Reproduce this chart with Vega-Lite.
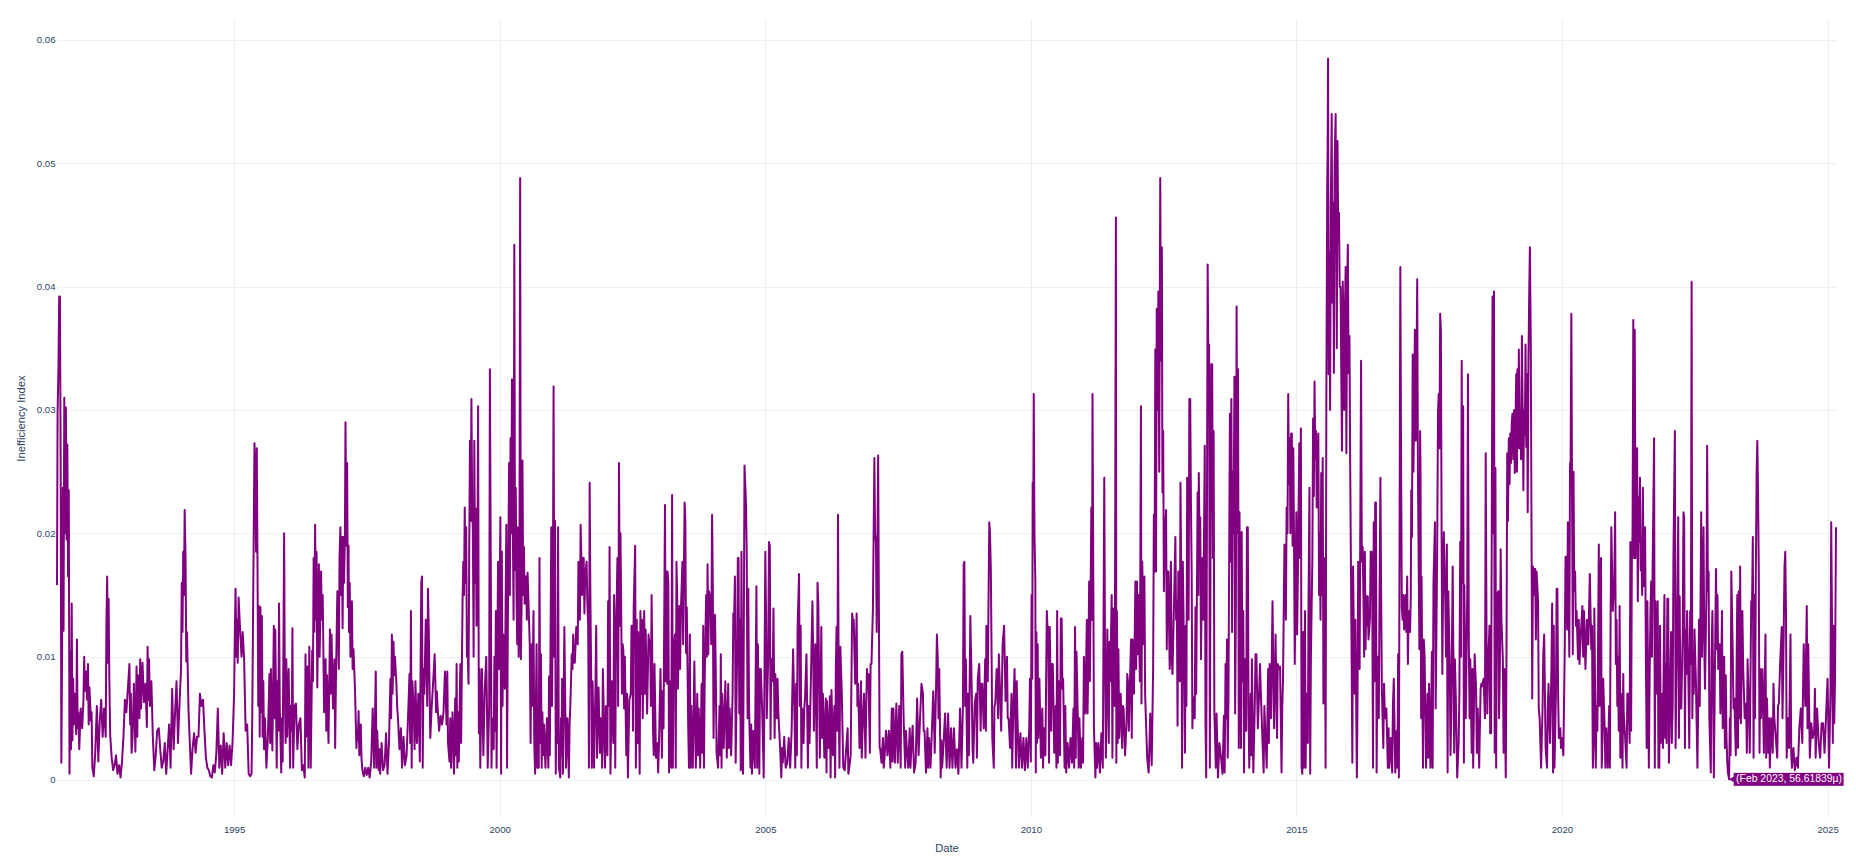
{
"$schema": "https://vega.github.io/schema/vega-lite/v6.json",
"width": 1779, "height": 798,
"autosize": {"type": "none"},
"padding": {"left": 57, "top": 19, "right": 27, "bottom": 45},
"background": "white",
"config": {"view": {"stroke": null}, "font": "Liberation Sans"},
"datasets": {
"hover": [{"d":"2023-02-24","v":0.0000566,"label":"(Feb 2023, 56.61839µ)"}],
"series": [
{"d":"1991-09-01","v":0.0158},{"d":"1991-09-05","v":0.0297},{"d":"1991-09-11","v":0.0335},{"d":"1991-09-16","v":0.0392},{"d":"1991-09-21","v":0.0392},{"d":"1991-09-26","v":0.0265},
{"d":"1991-10-01","v":0.0014},{"d":"1991-10-06","v":0.0105},{"d":"1991-10-11","v":0.0237},{"d":"1991-10-16","v":0.0121},{"d":"1991-10-21","v":0.031},{"d":"1991-10-26","v":0.02},
{"d":"1991-11-01","v":0.0302},{"d":"1991-11-06","v":0.0195},{"d":"1991-11-11","v":0.0272},{"d":"1991-11-16","v":0.0165},{"d":"1991-11-21","v":0.0235},{"d":"1991-11-26","v":0.0005},
{"d":"1991-12-01","v":0.0104},{"d":"1991-12-06","v":0.0025},{"d":"1991-12-11","v":0.0143},{"d":"1991-12-16","v":0.0032},{"d":"1991-12-21","v":0.0082},{"d":"1991-12-26","v":0.0045},
{"d":"1992-01-01","v":0.007},{"d":"1992-01-11","v":0.0037},{"d":"1992-01-16","v":0.0114},{"d":"1992-01-21","v":0.0042},{"d":"1992-01-26","v":0.0055},
{"d":"1992-02-01","v":0.0025},{"d":"1992-02-11","v":0.0058},{"d":"1992-02-21","v":0.0042},
{"d":"1992-03-01","v":0.0065},{"d":"1992-03-06","v":0.01},{"d":"1992-03-11","v":0.0072},{"d":"1992-03-21","v":0.0088},{"d":"1992-03-26","v":0.0065},
{"d":"1992-04-01","v":0.0094},{"d":"1992-04-06","v":0.0045},{"d":"1992-04-11","v":0.0075},{"d":"1992-04-21","v":0.0048},{"d":"1992-04-26","v":0.0055},
{"d":"1992-05-01","v":0.001},{"d":"1992-05-11","v":0.0003},{"d":"1992-05-21","v":0.0022},
{"d":"1992-06-01","v":0.006},{"d":"1992-06-11","v":0.0015},{"d":"1992-06-21","v":0.0048},
{"d":"1992-07-01","v":0.0065},{"d":"1992-07-11","v":0.0035},{"d":"1992-07-21","v":0.0058},
{"d":"1992-08-01","v":0.0035},{"d":"1992-08-06","v":0.0128},{"d":"1992-08-11","v":0.0165},{"d":"1992-08-16","v":0.0095},{"d":"1992-08-21","v":0.0147},{"d":"1992-08-26","v":0.008},
{"d":"1992-09-01","v":0.0036},{"d":"1992-09-11","v":0.0018},{"d":"1992-09-21","v":0.0008},
{"d":"1992-10-01","v":0.0012},{"d":"1992-10-11","v":0.002},{"d":"1992-10-21","v":0.0005},
{"d":"1992-11-01","v":0.0012},{"d":"1992-11-11","v":0.0002},{"d":"1992-11-21","v":0.0015},
{"d":"1992-12-01","v":0.0035},{"d":"1992-12-11","v":0.0065},{"d":"1992-12-21","v":0.0055},
{"d":"1993-01-01","v":0.0075},{"d":"1993-01-11","v":0.0094},{"d":"1993-01-16","v":0.0045},{"d":"1993-01-21","v":0.007},{"d":"1993-01-26","v":0.0022},
{"d":"1993-02-01","v":0.0033},{"d":"1993-02-11","v":0.0078},{"d":"1993-02-21","v":0.0023},
{"d":"1993-03-01","v":0.0092},{"d":"1993-03-06","v":0.0035},{"d":"1993-03-11","v":0.0085},{"d":"1993-03-21","v":0.005},{"d":"1993-03-26","v":0.0098},
{"d":"1993-04-01","v":0.0058},{"d":"1993-04-11","v":0.0095},{"d":"1993-04-21","v":0.0063},
{"d":"1993-05-01","v":0.0078},{"d":"1993-05-11","v":0.0043},{"d":"1993-05-16","v":0.0108},{"d":"1993-05-21","v":0.0065},{"d":"1993-05-26","v":0.0098},
{"d":"1993-06-01","v":0.006},{"d":"1993-06-11","v":0.008},{"d":"1993-06-21","v":0.0035},
{"d":"1993-07-01","v":0.0008},{"d":"1993-07-11","v":0.002},{"d":"1993-07-21","v":0.004},
{"d":"1993-08-01","v":0.0042},{"d":"1993-08-11","v":0.0025},{"d":"1993-08-21","v":0.001},
{"d":"1993-09-01","v":0.0015},{"d":"1993-09-11","v":0.003},{"d":"1993-09-21","v":0.0005},
{"d":"1993-10-01","v":0.0025},{"d":"1993-10-11","v":0.0045},{"d":"1993-10-21","v":0.001},
{"d":"1993-11-01","v":0.0074},{"d":"1993-11-11","v":0.0025},{"d":"1993-11-21","v":0.0055},
{"d":"1993-12-01","v":0.008},{"d":"1993-12-11","v":0.003},{"d":"1993-12-21","v":0.006},
{"d":"1994-01-01","v":0.009},{"d":"1994-01-06","v":0.016},{"d":"1994-01-11","v":0.012},{"d":"1994-01-16","v":0.0185},{"d":"1994-01-21","v":0.015},{"d":"1994-01-26","v":0.0219},
{"d":"1994-02-01","v":0.018},{"d":"1994-02-06","v":0.0096},{"d":"1994-02-11","v":0.012},{"d":"1994-02-21","v":0.0058},
{"d":"1994-03-01","v":0.0034},{"d":"1994-03-11","v":0.0005},{"d":"1994-03-21","v":0.0025},
{"d":"1994-04-01","v":0.0038},{"d":"1994-04-11","v":0.0022},{"d":"1994-04-21","v":0.0035},
{"d":"1994-05-01","v":0.0035},{"d":"1994-05-11","v":0.007},{"d":"1994-05-21","v":0.006},
{"d":"1994-06-01","v":0.0065},{"d":"1994-06-11","v":0.004},{"d":"1994-06-21","v":0.0018},
{"d":"1994-07-01","v":0.001},{"d":"1994-07-11","v":0.0008},{"d":"1994-07-21","v":0.0003},
{"d":"1994-08-01","v":0.0002},{"d":"1994-08-11","v":0.0012},{"d":"1994-08-21","v":0.0006},
{"d":"1994-09-01","v":0.0022},{"d":"1994-09-11","v":0.0058},{"d":"1994-09-21","v":0.001},
{"d":"1994-10-01","v":0.0028},{"d":"1994-10-11","v":0.0005},{"d":"1994-10-21","v":0.0038},
{"d":"1994-11-01","v":0.001},{"d":"1994-11-11","v":0.003},{"d":"1994-11-21","v":0.0012},
{"d":"1994-12-01","v":0.0028},{"d":"1994-12-11","v":0.0012},{"d":"1994-12-21","v":0.003},
{"d":"1995-01-01","v":0.007},{"d":"1995-01-06","v":0.012},{"d":"1995-01-11","v":0.0155},{"d":"1995-01-16","v":0.01},{"d":"1995-01-21","v":0.013},{"d":"1995-01-26","v":0.0095},
{"d":"1995-02-01","v":0.0148},{"d":"1995-02-11","v":0.0122},{"d":"1995-02-21","v":0.01},
{"d":"1995-03-01","v":0.012},{"d":"1995-03-11","v":0.0098},{"d":"1995-03-21","v":0.004},
{"d":"1995-04-01","v":0.0045},{"d":"1995-04-11","v":0.0005},{"d":"1995-04-21","v":0.0003},
{"d":"1995-05-01","v":0.0005},{"d":"1995-05-06","v":0.0054},{"d":"1995-05-11","v":0.013},{"d":"1995-05-16","v":0.02},{"d":"1995-05-21","v":0.0273},{"d":"1995-05-26","v":0.025},
{"d":"1995-06-01","v":0.0185},{"d":"1995-06-06","v":0.0269},{"d":"1995-06-11","v":0.0171},{"d":"1995-06-16","v":0.006},{"d":"1995-06-21","v":0.0141},{"d":"1995-06-26","v":0.0035},
{"d":"1995-07-01","v":0.014},{"d":"1995-07-06","v":0.0055},{"d":"1995-07-11","v":0.0133},{"d":"1995-07-16","v":0.0035},{"d":"1995-07-21","v":0.008},{"d":"1995-07-26","v":0.0025},
{"d":"1995-08-01","v":0.005},{"d":"1995-08-11","v":0.001},{"d":"1995-08-21","v":0.0035},
{"d":"1995-09-01","v":0.0086},{"d":"1995-09-06","v":0.003},{"d":"1995-09-11","v":0.009},{"d":"1995-09-21","v":0.0024},{"d":"1995-09-26","v":0.007},
{"d":"1995-10-01","v":0.0125},{"d":"1995-10-06","v":0.005},{"d":"1995-10-11","v":0.0122},{"d":"1995-10-21","v":0.001},{"d":"1995-10-26","v":0.008},
{"d":"1995-11-01","v":0.004},{"d":"1995-11-06","v":0.0143},{"d":"1995-11-11","v":0.006},{"d":"1995-11-21","v":0.0006},{"d":"1995-11-26","v":0.005},
{"d":"1995-12-01","v":0.0015},{"d":"1995-12-11","v":0.02},{"d":"1995-12-16","v":0.007},{"d":"1995-12-21","v":0.003},{"d":"1995-12-26","v":0.0098},
{"d":"1996-01-01","v":0.0035},{"d":"1996-01-11","v":0.009},{"d":"1996-01-21","v":0.001},{"d":"1996-01-26","v":0.006},
{"d":"1996-02-01","v":0.004},{"d":"1996-02-06","v":0.0123},{"d":"1996-02-11","v":0.001},{"d":"1996-02-21","v":0.006},
{"d":"1996-03-01","v":0.0062},{"d":"1996-03-11","v":0.0025},{"d":"1996-03-21","v":0.0045},
{"d":"1996-04-01","v":0.005},{"d":"1996-04-11","v":0.0008},{"d":"1996-04-21","v":0.0012},
{"d":"1996-05-01","v":0.0002},{"d":"1996-05-06","v":0.0102},{"d":"1996-05-11","v":0.0035},{"d":"1996-05-21","v":0.0092},{"d":"1996-05-26","v":0.001},
{"d":"1996-06-01","v":0.0108},{"d":"1996-06-11","v":0.001},{"d":"1996-06-21","v":0.0105},{"d":"1996-06-26","v":0.008},
{"d":"1996-07-01","v":0.018},{"d":"1996-07-06","v":0.012},{"d":"1996-07-11","v":0.0207},{"d":"1996-07-16","v":0.013},{"d":"1996-07-21","v":0.0185},{"d":"1996-07-26","v":0.0075},
{"d":"1996-08-01","v":0.0135},{"d":"1996-08-06","v":0.0175},{"d":"1996-08-11","v":0.01},{"d":"1996-08-21","v":0.0169},{"d":"1996-08-26","v":0.013},
{"d":"1996-09-01","v":0.015},{"d":"1996-09-11","v":0.0055},{"d":"1996-09-21","v":0.0098},{"d":"1996-09-26","v":0.004},
{"d":"1996-10-01","v":0.0085},{"d":"1996-10-11","v":0.003},{"d":"1996-10-21","v":0.0122},{"d":"1996-10-26","v":0.007},
{"d":"1996-11-01","v":0.0118},{"d":"1996-11-11","v":0.0058},{"d":"1996-11-21","v":0.0098},{"d":"1996-11-26","v":0.0026},
{"d":"1996-12-01","v":0.008},{"d":"1996-12-11","v":0.0153},{"d":"1996-12-21","v":0.009},{"d":"1996-12-26","v":0.018},
{"d":"1997-01-01","v":0.0205},{"d":"1997-01-06","v":0.015},{"d":"1997-01-11","v":0.0197},{"d":"1997-01-16","v":0.0123},{"d":"1997-01-21","v":0.0197},{"d":"1997-01-26","v":0.016},
{"d":"1997-02-01","v":0.02},{"d":"1997-02-05","v":0.029},{"d":"1997-02-11","v":0.019},{"d":"1997-02-16","v":0.0257},{"d":"1997-02-21","v":0.014},{"d":"1997-02-26","v":0.019},
{"d":"1997-03-01","v":0.012},{"d":"1997-03-06","v":0.016},{"d":"1997-03-11","v":0.01},{"d":"1997-03-21","v":0.0145},{"d":"1997-03-26","v":0.009},
{"d":"1997-04-01","v":0.0106},{"d":"1997-04-11","v":0.0075},{"d":"1997-04-21","v":0.0026},{"d":"1997-04-26","v":0.004},
{"d":"1997-05-01","v":0.0032},{"d":"1997-05-06","v":0.0056},{"d":"1997-05-11","v":0.002},{"d":"1997-05-21","v":0.0045},{"d":"1997-05-26","v":0.0018},
{"d":"1997-06-01","v":0.0008},{"d":"1997-06-11","v":0.0003},{"d":"1997-06-21","v":0.001},
{"d":"1997-07-01","v":0.0004},{"d":"1997-07-11","v":0.001},{"d":"1997-07-21","v":0.0002},
{"d":"1997-08-01","v":0.0015},{"d":"1997-08-11","v":0.0058},{"d":"1997-08-21","v":0.001},
{"d":"1997-09-01","v":0.0088},{"d":"1997-09-06","v":0.001},{"d":"1997-09-11","v":0.004},{"d":"1997-09-21","v":0.0008},{"d":"1997-09-26","v":0.0025},
{"d":"1997-10-01","v":0.0005},{"d":"1997-10-11","v":0.003},{"d":"1997-10-21","v":0.0008},
{"d":"1997-11-01","v":0.0012},{"d":"1997-11-11","v":0.0038},{"d":"1997-11-21","v":0.0005},
{"d":"1997-12-01","v":0.003},{"d":"1997-12-11","v":0.0082},{"d":"1997-12-16","v":0.005},{"d":"1997-12-21","v":0.0118},{"d":"1997-12-26","v":0.007},
{"d":"1998-01-01","v":0.0112},{"d":"1998-01-06","v":0.0085},{"d":"1998-01-11","v":0.01},{"d":"1998-01-21","v":0.0078},{"d":"1998-01-26","v":0.006},
{"d":"1998-02-01","v":0.005},{"d":"1998-02-11","v":0.0025},{"d":"1998-02-21","v":0.0042},
{"d":"1998-03-01","v":0.001},{"d":"1998-03-11","v":0.0035},{"d":"1998-03-21","v":0.0012},
{"d":"1998-04-01","v":0.002},{"d":"1998-04-11","v":0.005},{"d":"1998-04-21","v":0.0086},{"d":"1998-04-26","v":0.003},
{"d":"1998-05-01","v":0.0137},{"d":"1998-05-06","v":0.001},{"d":"1998-05-11","v":0.008},{"d":"1998-05-21","v":0.0055},{"d":"1998-05-26","v":0.0025},
{"d":"1998-06-01","v":0.008},{"d":"1998-06-11","v":0.003},{"d":"1998-06-21","v":0.007},
{"d":"1998-07-01","v":0.0015},{"d":"1998-07-11","v":0.016},{"d":"1998-07-16","v":0.0165},{"d":"1998-07-21","v":0.001},{"d":"1998-07-26","v":0.009},
{"d":"1998-08-01","v":0.007},{"d":"1998-08-11","v":0.013},{"d":"1998-08-21","v":0.006},{"d":"1998-08-26","v":0.0155},
{"d":"1998-09-01","v":0.012},{"d":"1998-09-06","v":0.0075},{"d":"1998-09-11","v":0.0034},{"d":"1998-09-21","v":0.006},
{"d":"1998-10-01","v":0.008},{"d":"1998-10-11","v":0.0102},{"d":"1998-10-21","v":0.0055},{"d":"1998-10-26","v":0.0072},
{"d":"1998-11-01","v":0.0058},{"d":"1998-11-11","v":0.004},{"d":"1998-11-21","v":0.0052},
{"d":"1998-12-01","v":0.0045},{"d":"1998-12-11","v":0.0055},{"d":"1998-12-21","v":0.0088},
{"d":"1999-01-01","v":0.0045},{"d":"1999-01-06","v":0.0088},{"d":"1999-01-11","v":0.003},{"d":"1999-01-21","v":0.0015},{"d":"1999-01-26","v":0.005},
{"d":"1999-02-01","v":0.001},{"d":"1999-02-11","v":0.0055},{"d":"1999-02-21","v":0.0005},{"d":"1999-02-26","v":0.004},
{"d":"1999-03-01","v":0.0066},{"d":"1999-03-06","v":0.002},{"d":"1999-03-11","v":0.0094},{"d":"1999-03-16","v":0.001},{"d":"1999-03-21","v":0.0055},{"d":"1999-03-26","v":0.0015},
{"d":"1999-04-01","v":0.006},{"d":"1999-04-06","v":0.0094},{"d":"1999-04-11","v":0.003},{"d":"1999-04-21","v":0.0145},{"d":"1999-04-26","v":0.0177},
{"d":"1999-05-01","v":0.015},{"d":"1999-05-06","v":0.0221},{"d":"1999-05-11","v":0.016},{"d":"1999-05-16","v":0.0205},{"d":"1999-05-21","v":0.01},{"d":"1999-05-26","v":0.0106},
{"d":"1999-06-01","v":0.0078},{"d":"1999-06-06","v":0.019},{"d":"1999-06-11","v":0.0275},{"d":"1999-06-16","v":0.021},{"d":"1999-06-21","v":0.0309},{"d":"1999-06-26","v":0.0225},
{"d":"1999-07-01","v":0.02},{"d":"1999-07-06","v":0.01},{"d":"1999-07-11","v":0.0275},{"d":"1999-07-16","v":0.016},{"d":"1999-07-21","v":0.022},{"d":"1999-07-26","v":0.0125},
{"d":"1999-08-01","v":0.018},{"d":"1999-08-06","v":0.0303},{"d":"1999-08-11","v":0.0038},{"d":"1999-08-16","v":0.009},{"d":"1999-08-21","v":0.001},{"d":"1999-08-26","v":0.005},
{"d":"1999-09-01","v":0.009},{"d":"1999-09-11","v":0.002},{"d":"1999-09-21","v":0.0075},
{"d":"1999-10-01","v":0.01},{"d":"1999-10-06","v":0.0058},{"d":"1999-10-11","v":0.001},{"d":"1999-10-21","v":0.006},{"d":"1999-10-26","v":0.0333},
{"d":"1999-11-01","v":0.0177},{"d":"1999-11-06","v":0.001},{"d":"1999-11-11","v":0.005},{"d":"1999-11-21","v":0.0025},{"d":"1999-11-26","v":0.01},
{"d":"1999-12-01","v":0.004},{"d":"1999-12-06","v":0.0137},{"d":"1999-12-11","v":0.001},{"d":"1999-12-21","v":0.0177},{"d":"1999-12-26","v":0.009},
{"d":"2000-01-01","v":0.015},{"d":"2000-01-06","v":0.0213},{"d":"2000-01-11","v":0.0005},{"d":"2000-01-16","v":0.0185},{"d":"2000-01-21","v":0.006},{"d":"2000-01-26","v":0.0118},
{"d":"2000-02-01","v":0.009},{"d":"2000-02-06","v":0.0074},{"d":"2000-02-11","v":0.014},{"d":"2000-02-16","v":0.0207},{"d":"2000-02-21","v":0.001},{"d":"2000-02-26","v":0.012},
{"d":"2000-03-01","v":0.018},{"d":"2000-03-06","v":0.0257},{"d":"2000-03-11","v":0.015},{"d":"2000-03-16","v":0.0277},{"d":"2000-03-21","v":0.02},{"d":"2000-03-26","v":0.0325},
{"d":"2000-04-01","v":0.02},{"d":"2000-04-06","v":0.013},{"d":"2000-04-11","v":0.0434},{"d":"2000-04-16","v":0.017},{"d":"2000-04-21","v":0.0237},{"d":"2000-04-26","v":0.015},
{"d":"2000-05-01","v":0.011},{"d":"2000-05-06","v":0.0205},{"d":"2000-05-11","v":0.01},{"d":"2000-05-16","v":0.015},{"d":"2000-05-21","v":0.0488},{"d":"2000-05-26","v":0.0098},
{"d":"2000-06-01","v":0.015},{"d":"2000-06-06","v":0.0259},{"d":"2000-06-11","v":0.015},{"d":"2000-06-16","v":0.0189},{"d":"2000-06-21","v":0.0143},{"d":"2000-06-26","v":0.0165},
{"d":"2000-07-01","v":0.0165},{"d":"2000-07-06","v":0.013},{"d":"2000-07-11","v":0.0168},{"d":"2000-07-21","v":0.013},{"d":"2000-07-26","v":0.011},
{"d":"2000-08-01","v":0.003},{"d":"2000-08-06","v":0.011},{"d":"2000-08-11","v":0.006},{"d":"2000-08-21","v":0.0137},{"d":"2000-08-26","v":0.003},
{"d":"2000-09-01","v":0.0005},{"d":"2000-09-11","v":0.011},{"d":"2000-09-16","v":0.001},{"d":"2000-09-21","v":0.0058},{"d":"2000-09-26","v":0.001},
{"d":"2000-10-01","v":0.018},{"d":"2000-10-06","v":0.003},{"d":"2000-10-11","v":0.0102},{"d":"2000-10-16","v":0.001},{"d":"2000-10-21","v":0.0055},{"d":"2000-10-26","v":0.002},
{"d":"2000-11-01","v":0.0045},{"d":"2000-11-11","v":0.001},{"d":"2000-11-21","v":0.005},
{"d":"2000-12-01","v":0.001},{"d":"2000-12-06","v":0.0084},{"d":"2000-12-11","v":0.002},{"d":"2000-12-21","v":0.0205},{"d":"2000-12-26","v":0.006},
{"d":"2001-01-01","v":0.015},{"d":"2001-01-06","v":0.0319},{"d":"2001-01-11","v":0.01},{"d":"2001-01-16","v":0.021},{"d":"2001-01-21","v":0.0005},{"d":"2001-01-26","v":0.006},
{"d":"2001-02-01","v":0.003},{"d":"2001-02-06","v":0.0205},{"d":"2001-02-11","v":0.001},{"d":"2001-02-21","v":0.0002},{"d":"2001-02-26","v":0.005},
{"d":"2001-03-01","v":0.002},{"d":"2001-03-06","v":0.0082},{"d":"2001-03-11","v":0.0005},{"d":"2001-03-21","v":0.0124},{"d":"2001-03-26","v":0.0074},
{"d":"2001-04-01","v":0.001},{"d":"2001-04-11","v":0.005},{"d":"2001-04-21","v":0.0002},{"d":"2001-04-26","v":0.0045},
{"d":"2001-05-01","v":0.006},{"d":"2001-05-11","v":0.0102},{"d":"2001-05-16","v":0.009},{"d":"2001-05-21","v":0.0118},{"d":"2001-05-26","v":0.0095},
{"d":"2001-06-01","v":0.0095},{"d":"2001-06-11","v":0.0124},{"d":"2001-06-21","v":0.011},{"d":"2001-06-26","v":0.0177},
{"d":"2001-07-01","v":0.0175},{"d":"2001-07-06","v":0.013},{"d":"2001-07-11","v":0.0207},{"d":"2001-07-21","v":0.015},{"d":"2001-07-26","v":0.018},
{"d":"2001-08-01","v":0.018},{"d":"2001-08-06","v":0.0135},{"d":"2001-08-11","v":0.0165},{"d":"2001-08-21","v":0.0177},{"d":"2001-08-26","v":0.0145},
{"d":"2001-09-01","v":0.0124},{"d":"2001-09-06","v":0.001},{"d":"2001-09-11","v":0.0241},{"d":"2001-09-16","v":0.015},{"d":"2001-09-21","v":0.009},{"d":"2001-09-26","v":0.001},
{"d":"2001-10-01","v":0.008},{"d":"2001-10-11","v":0.001},{"d":"2001-10-21","v":0.0075},{"d":"2001-10-26","v":0.0125},
{"d":"2001-11-01","v":0.0018},{"d":"2001-11-11","v":0.0075},{"d":"2001-11-21","v":0.0022},{"d":"2001-11-26","v":0.005},
{"d":"2001-12-01","v":0.0042},{"d":"2001-12-06","v":0.001},{"d":"2001-12-11","v":0.009},{"d":"2001-12-21","v":0.003},{"d":"2001-12-26","v":0.001},
{"d":"2002-01-01","v":0.006},{"d":"2002-01-11","v":0.002},{"d":"2002-01-16","v":0.0145},{"d":"2002-01-21","v":0.006},{"d":"2002-01-26","v":0.0189},
{"d":"2002-02-01","v":0.0005},{"d":"2002-02-11","v":0.008},{"d":"2002-02-21","v":0.003},{"d":"2002-02-26","v":0.015},
{"d":"2002-03-01","v":0.013},{"d":"2002-03-06","v":0.001},{"d":"2002-03-11","v":0.011},{"d":"2002-03-21","v":0.018},{"d":"2002-03-26","v":0.006},
{"d":"2002-04-01","v":0.0257},{"d":"2002-04-06","v":0.0125},{"d":"2002-04-11","v":0.02},{"d":"2002-04-21","v":0.007},{"d":"2002-04-26","v":0.011},
{"d":"2002-05-01","v":0.0105},{"d":"2002-05-06","v":0.0058},{"d":"2002-05-11","v":0.01},{"d":"2002-05-21","v":0.002},{"d":"2002-05-26","v":0.007},
{"d":"2002-06-01","v":0.0002},{"d":"2002-06-11","v":0.0065},{"d":"2002-06-21","v":0.007},{"d":"2002-06-26","v":0.0125},
{"d":"2002-07-01","v":0.0125},{"d":"2002-07-06","v":0.004},{"d":"2002-07-11","v":0.014},{"d":"2002-07-21","v":0.019},{"d":"2002-07-26","v":0.001},
{"d":"2002-08-01","v":0.013},{"d":"2002-08-06","v":0.003},{"d":"2002-08-11","v":0.012},{"d":"2002-08-21","v":0.0005},{"d":"2002-08-26","v":0.0137},
{"d":"2002-09-01","v":0.007},{"d":"2002-09-06","v":0.013},{"d":"2002-09-11","v":0.005},{"d":"2002-09-21","v":0.0137},{"d":"2002-09-26","v":0.007},
{"d":"2002-10-01","v":0.0122},{"d":"2002-10-11","v":0.0054},{"d":"2002-10-21","v":0.0118},{"d":"2002-10-26","v":0.011},
{"d":"2002-11-01","v":0.0113},{"d":"2002-11-06","v":0.006},{"d":"2002-11-11","v":0.015},{"d":"2002-11-21","v":0.004},{"d":"2002-11-26","v":0.002},
{"d":"2002-12-01","v":0.0094},{"d":"2002-12-11","v":0.0018},{"d":"2002-12-21","v":0.003},{"d":"2002-12-26","v":0.0006},
{"d":"2003-01-01","v":0.003},{"d":"2003-01-11","v":0.009},{"d":"2003-01-21","v":0.0018},{"d":"2003-01-26","v":0.0072},
{"d":"2003-02-01","v":0.0042},{"d":"2003-02-11","v":0.0223},{"d":"2003-02-16","v":0.008},{"d":"2003-02-21","v":0.0169},{"d":"2003-02-26","v":0.0078},
{"d":"2003-03-01","v":0.0169},{"d":"2003-03-06","v":0.016},{"d":"2003-03-11","v":0.0006},{"d":"2003-03-21","v":0.008},{"d":"2003-03-26","v":0.001},
{"d":"2003-04-01","v":0.0231},{"d":"2003-04-06","v":0.001},{"d":"2003-04-11","v":0.0106},{"d":"2003-04-21","v":0.0118},{"d":"2003-04-26","v":0.001},
{"d":"2003-05-01","v":0.0177},{"d":"2003-05-06","v":0.015},{"d":"2003-05-11","v":0.0074},{"d":"2003-05-21","v":0.0141},{"d":"2003-05-26","v":0.009},
{"d":"2003-06-01","v":0.014},{"d":"2003-06-11","v":0.0177},{"d":"2003-06-16","v":0.011},{"d":"2003-06-26","v":0.0225},
{"d":"2003-07-01","v":0.0211},{"d":"2003-07-06","v":0.0103},{"d":"2003-07-11","v":0.014},{"d":"2003-07-21","v":0.0042},{"d":"2003-07-26","v":0.001},
{"d":"2003-08-01","v":0.0118},{"d":"2003-08-06","v":0.001},{"d":"2003-08-11","v":0.006},{"d":"2003-08-21","v":0.001},{"d":"2003-08-26","v":0.0045},
{"d":"2003-09-01","v":0.0096},{"d":"2003-09-11","v":0.001},{"d":"2003-09-21","v":0.007},{"d":"2003-09-26","v":0.002},
{"d":"2003-10-01","v":0.0058},{"d":"2003-10-11","v":0.001},{"d":"2003-10-21","v":0.0078},{"d":"2003-10-26","v":0.0022},
{"d":"2003-11-01","v":0.0125},{"d":"2003-11-06","v":0.001},{"d":"2003-11-11","v":0.008},{"d":"2003-11-21","v":0.015},{"d":"2003-11-26","v":0.01},
{"d":"2003-12-01","v":0.0175},{"d":"2003-12-06","v":0.0102},{"d":"2003-12-11","v":0.0153},{"d":"2003-12-21","v":0.0145},{"d":"2003-12-26","v":0.011},
{"d":"2004-01-01","v":0.0215},{"d":"2004-01-06","v":0.0157},{"d":"2004-01-11","v":0.0034},{"d":"2004-01-21","v":0.0134},{"d":"2004-01-26","v":0.009},
{"d":"2004-02-01","v":0.0022},{"d":"2004-02-11","v":0.001},{"d":"2004-02-21","v":0.006},{"d":"2004-02-26","v":0.002},
{"d":"2004-03-01","v":0.0102},{"d":"2004-03-06","v":0.001},{"d":"2004-03-11","v":0.007},{"d":"2004-03-21","v":0.0026},{"d":"2004-03-26","v":0.005},
{"d":"2004-04-01","v":0.008},{"d":"2004-04-11","v":0.0018},{"d":"2004-04-21","v":0.0078},{"d":"2004-04-26","v":0.0026},
{"d":"2004-05-01","v":0.0058},{"d":"2004-05-11","v":0.002},{"d":"2004-05-21","v":0.007},{"d":"2004-05-26","v":0.0135},
{"d":"2004-06-01","v":0.0135},{"d":"2004-06-06","v":0.0165},{"d":"2004-06-11","v":0.0014},{"d":"2004-06-21","v":0.01},{"d":"2004-06-26","v":0.018},
{"d":"2004-07-01","v":0.018},{"d":"2004-07-06","v":0.0054},{"d":"2004-07-11","v":0.013},{"d":"2004-07-16","v":0.0008},{"d":"2004-07-21","v":0.0185},{"d":"2004-07-26","v":0.002},
{"d":"2004-08-01","v":0.0005},{"d":"2004-08-06","v":0.012},{"d":"2004-08-11","v":0.0255},{"d":"2004-08-21","v":0.0225},{"d":"2004-08-26","v":0.0185},
{"d":"2004-09-01","v":0.005},{"d":"2004-09-06","v":0.0155},{"d":"2004-09-11","v":0.006},{"d":"2004-09-21","v":0.001},{"d":"2004-09-26","v":0.0045},
{"d":"2004-10-01","v":0.0005},{"d":"2004-10-11","v":0.004},{"d":"2004-10-21","v":0.001},
{"d":"2004-11-01","v":0.0157},{"d":"2004-11-06","v":0.001},{"d":"2004-11-11","v":0.011},{"d":"2004-11-21","v":0.0005},{"d":"2004-11-26","v":0.009},
{"d":"2004-12-01","v":0.009},{"d":"2004-12-11","v":0.0054},{"d":"2004-12-21","v":0.0002},{"d":"2004-12-26","v":0.008},
{"d":"2005-01-01","v":0.0185},{"d":"2005-01-06","v":0.0137},{"d":"2005-01-11","v":0.005},{"d":"2005-01-21","v":0.01},{"d":"2005-01-26","v":0.0193},
{"d":"2005-02-01","v":0.019},{"d":"2005-02-06","v":0.0033},{"d":"2005-02-11","v":0.0098},{"d":"2005-02-21","v":0.008},{"d":"2005-02-26","v":0.0139},
{"d":"2005-03-01","v":0.0098},{"d":"2005-03-06","v":0.0034},{"d":"2005-03-11","v":0.0086},{"d":"2005-03-21","v":0.005},{"d":"2005-03-26","v":0.0082},
{"d":"2005-04-01","v":0.0054},{"d":"2005-04-11","v":0.003},{"d":"2005-04-21","v":0.0002},{"d":"2005-04-26","v":0.0026},
{"d":"2005-05-01","v":0.0014},{"d":"2005-05-11","v":0.0035},{"d":"2005-05-21","v":0.001},
{"d":"2005-06-01","v":0.0014},{"d":"2005-06-11","v":0.0034},{"d":"2005-06-21","v":0.001},
{"d":"2005-07-01","v":0.004},{"d":"2005-07-11","v":0.0106},{"d":"2005-07-21","v":0.005},{"d":"2005-07-26","v":0.001},
{"d":"2005-08-01","v":0.0078},{"d":"2005-08-06","v":0.002},{"d":"2005-08-11","v":0.0123},{"d":"2005-08-21","v":0.0167},{"d":"2005-08-26","v":0.006},
{"d":"2005-09-01","v":0.0125},{"d":"2005-09-06","v":0.001},{"d":"2005-09-11","v":0.0058},{"d":"2005-09-21","v":0.003},{"d":"2005-09-26","v":0.0058},
{"d":"2005-10-01","v":0.0066},{"d":"2005-10-11","v":0.0102},{"d":"2005-10-21","v":0.001},{"d":"2005-10-26","v":0.006},
{"d":"2005-11-01","v":0.003},{"d":"2005-11-11","v":0.0085},{"d":"2005-11-21","v":0.0145},{"d":"2005-11-26","v":0.0106},
{"d":"2005-12-01","v":0.004},{"d":"2005-12-11","v":0.011},{"d":"2005-12-21","v":0.001},{"d":"2005-12-26","v":0.016},
{"d":"2006-01-01","v":0.0141},{"d":"2006-01-06","v":0.0078},{"d":"2006-01-11","v":0.0018},{"d":"2006-01-21","v":0.0124},{"d":"2006-01-26","v":0.0034},
{"d":"2006-02-01","v":0.007},{"d":"2006-02-11","v":0.0018},{"d":"2006-02-21","v":0.0066},{"d":"2006-02-26","v":0.0006},
{"d":"2006-03-01","v":0.0064},{"d":"2006-03-11","v":0.0026},{"d":"2006-03-21","v":0.0068},{"d":"2006-03-26","v":0.0002},
{"d":"2006-04-01","v":0.0073},{"d":"2006-04-11","v":0.002},{"d":"2006-04-21","v":0.006},{"d":"2006-04-26","v":0.0002},
{"d":"2006-05-01","v":0.009},{"d":"2006-05-06","v":0.0124},{"d":"2006-05-11","v":0.004},{"d":"2006-05-16","v":0.0215},{"d":"2006-05-21","v":0.006},{"d":"2006-05-26","v":0.001},
{"d":"2006-06-01","v":0.0108},{"d":"2006-06-11","v":0.007},{"d":"2006-06-21","v":0.001},
{"d":"2006-07-01","v":0.0008},{"d":"2006-07-11","v":0.0025},{"d":"2006-07-21","v":0.0042},{"d":"2006-07-26","v":0.0005},
{"d":"2006-08-01","v":0.001},{"d":"2006-08-11","v":0.002},{"d":"2006-08-21","v":0.0135},{"d":"2006-08-26","v":0.013},
{"d":"2006-09-01","v":0.013},{"d":"2006-09-06","v":0.0102},{"d":"2006-09-11","v":0.0078},{"d":"2006-09-21","v":0.0135},{"d":"2006-09-26","v":0.006},
{"d":"2006-10-01","v":0.0078},{"d":"2006-10-11","v":0.0026},{"d":"2006-10-21","v":0.008},{"d":"2006-10-26","v":0.0018},
{"d":"2006-11-01","v":0.0042},{"d":"2006-11-11","v":0.007},{"d":"2006-11-21","v":0.0018},{"d":"2006-11-26","v":0.006},
{"d":"2006-12-01","v":0.009},{"d":"2006-12-06","v":0.0074},{"d":"2006-12-11","v":0.0086},{"d":"2006-12-21","v":0.0022},{"d":"2006-12-26","v":0.0094},
{"d":"2007-01-01","v":0.0094},{"d":"2007-01-11","v":0.0139},{"d":"2007-01-21","v":0.0261},{"d":"2007-01-26","v":0.02},
{"d":"2007-02-01","v":0.0192},{"d":"2007-02-06","v":0.012},{"d":"2007-02-16","v":0.0263},{"d":"2007-02-21","v":0.0141},{"d":"2007-02-26","v":0.0026},
{"d":"2007-03-01","v":0.0026},{"d":"2007-03-11","v":0.0014},{"d":"2007-03-21","v":0.0034},{"d":"2007-03-26","v":0.001},
{"d":"2007-04-01","v":0.0018},{"d":"2007-04-11","v":0.004},{"d":"2007-04-21","v":0.002},
{"d":"2007-05-01","v":0.004},{"d":"2007-05-11","v":0.001},{"d":"2007-05-21","v":0.0058},{"d":"2007-05-26","v":0.0015},
{"d":"2007-06-01","v":0.0058},{"d":"2007-06-11","v":0.0014},{"d":"2007-06-21","v":0.0062},
{"d":"2007-07-01","v":0.0014},{"d":"2007-07-11","v":0.006},{"d":"2007-07-21","v":0.001},{"d":"2007-07-26","v":0.0102},
{"d":"2007-08-01","v":0.0104},{"d":"2007-08-11","v":0.0046},{"d":"2007-08-21","v":0.001},{"d":"2007-08-26","v":0.004},
{"d":"2007-09-01","v":0.0026},{"d":"2007-09-11","v":0.001},{"d":"2007-09-21","v":0.0042},{"d":"2007-09-26","v":0.001},
{"d":"2007-10-01","v":0.0022},{"d":"2007-10-11","v":0.0044},{"d":"2007-10-21","v":0.0006},
{"d":"2007-11-01","v":0.0014},{"d":"2007-11-11","v":0.0066},{"d":"2007-11-21","v":0.002},
{"d":"2007-12-01","v":0.005},{"d":"2007-12-11","v":0.0078},{"d":"2007-12-21","v":0.007},{"d":"2007-12-26","v":0.004},
{"d":"2008-01-01","v":0.004},{"d":"2008-01-11","v":0.0006},{"d":"2008-01-21","v":0.0042},{"d":"2008-01-26","v":0.001},
{"d":"2008-02-01","v":0.0034},{"d":"2008-02-11","v":0.001},{"d":"2008-02-21","v":0.0042},
{"d":"2008-03-01","v":0.0072},{"d":"2008-03-11","v":0.0022},{"d":"2008-03-21","v":0.008},{"d":"2008-03-26","v":0.0118},
{"d":"2008-04-01","v":0.0098},{"d":"2008-04-06","v":0.005},{"d":"2008-04-11","v":0.009},{"d":"2008-04-21","v":0.0002},{"d":"2008-04-26","v":0.0032},
{"d":"2008-05-01","v":0.001},{"d":"2008-05-11","v":0.003},{"d":"2008-05-21","v":0.0054},
{"d":"2008-06-01","v":0.001},{"d":"2008-06-11","v":0.0054},{"d":"2008-06-21","v":0.001},
{"d":"2008-07-01","v":0.0042},{"d":"2008-07-11","v":0.001},{"d":"2008-07-21","v":0.0042},
{"d":"2008-08-01","v":0.001},{"d":"2008-08-11","v":0.0025},{"d":"2008-08-21","v":0.0005},
{"d":"2008-09-01","v":0.0058},{"d":"2008-09-11","v":0.001},{"d":"2008-09-21","v":0.006},{"d":"2008-09-26","v":0.0175},
{"d":"2008-10-01","v":0.0177},{"d":"2008-10-06","v":0.006},{"d":"2008-10-11","v":0.0098},{"d":"2008-10-21","v":0.001},{"d":"2008-10-26","v":0.007},
{"d":"2008-11-01","v":0.002},{"d":"2008-11-11","v":0.0133},{"d":"2008-11-21","v":0.007},{"d":"2008-11-26","v":0.0026},
{"d":"2008-12-01","v":0.0014},{"d":"2008-12-11","v":0.0062},{"d":"2008-12-21","v":0.007},{"d":"2008-12-26","v":0.0018},
{"d":"2009-01-01","v":0.0082},{"d":"2009-01-11","v":0.0094},{"d":"2009-01-21","v":0.004},{"d":"2009-01-26","v":0.0078},
{"d":"2009-02-01","v":0.0078},{"d":"2009-02-11","v":0.0042},{"d":"2009-02-21","v":0.0098},{"d":"2009-02-26","v":0.004},
{"d":"2009-03-01","v":0.0125},{"d":"2009-03-11","v":0.008},{"d":"2009-03-21","v":0.0209},{"d":"2009-03-26","v":0.0201},
{"d":"2009-04-01","v":0.017},{"d":"2009-04-11","v":0.0034},{"d":"2009-04-21","v":0.001},{"d":"2009-04-26","v":0.006},
{"d":"2009-05-01","v":0.0062},{"d":"2009-05-11","v":0.009},{"d":"2009-05-21","v":0.005},{"d":"2009-05-26","v":0.0102},
{"d":"2009-06-01","v":0.008},{"d":"2009-06-11","v":0.004},{"d":"2009-06-21","v":0.011},
{"d":"2009-07-01","v":0.0125},{"d":"2009-07-11","v":0.0064},{"d":"2009-07-21","v":0.01},{"d":"2009-07-26","v":0.005},
{"d":"2009-08-01","v":0.005},{"d":"2009-08-11","v":0.0026},{"d":"2009-08-21","v":0.007},{"d":"2009-08-26","v":0.001},
{"d":"2009-09-01","v":0.005},{"d":"2009-09-11","v":0.009},{"d":"2009-09-21","v":0.001},{"d":"2009-09-26","v":0.008},
{"d":"2009-10-01","v":0.005},{"d":"2009-10-11","v":0.001},{"d":"2009-10-21","v":0.0038},
{"d":"2009-11-01","v":0.001},{"d":"2009-11-11","v":0.0034},{"d":"2009-11-21","v":0.0008},
{"d":"2009-12-01","v":0.0034},{"d":"2009-12-11","v":0.001},{"d":"2009-12-21","v":0.0042},{"d":"2009-12-26","v":0.0082},
{"d":"2010-01-01","v":0.0015},{"d":"2010-01-06","v":0.015},{"d":"2010-01-11","v":0.0082},{"d":"2010-01-14","v":0.0241},{"d":"2010-01-18","v":0.0225},{"d":"2010-01-21","v":0.0313},{"d":"2010-01-26","v":0.02},
{"d":"2010-02-01","v":0.0161},{"d":"2010-02-04","v":0.0006},{"d":"2010-02-08","v":0.012},{"d":"2010-02-12","v":0.003},{"d":"2010-02-17","v":0.011},{"d":"2010-02-21","v":0.0034},{"d":"2010-02-26","v":0.006},
{"d":"2010-03-01","v":0.0082},{"d":"2010-03-11","v":0.0018},{"d":"2010-03-21","v":0.0058},{"d":"2010-03-26","v":0.001},
{"d":"2010-04-01","v":0.0042},{"d":"2010-04-11","v":0.002},{"d":"2010-04-21","v":0.0137},{"d":"2010-04-26","v":0.0122},
{"d":"2010-05-01","v":0.0124},{"d":"2010-05-06","v":0.0014},{"d":"2010-05-11","v":0.0124},{"d":"2010-05-21","v":0.004},{"d":"2010-05-26","v":0.0094},
{"d":"2010-06-01","v":0.0094},{"d":"2010-06-11","v":0.0022},{"d":"2010-06-21","v":0.006},{"d":"2010-06-26","v":0.001},
{"d":"2010-07-01","v":0.0137},{"d":"2010-07-06","v":0.0014},{"d":"2010-07-11","v":0.008},{"d":"2010-07-21","v":0.002},{"d":"2010-07-26","v":0.0131},
{"d":"2010-08-01","v":0.0131},{"d":"2010-08-06","v":0.0074},{"d":"2010-08-11","v":0.0082},{"d":"2010-08-21","v":0.001},{"d":"2010-08-26","v":0.006},
{"d":"2010-09-01","v":0.0006},{"d":"2010-09-11","v":0.003},{"d":"2010-09-21","v":0.001},
{"d":"2010-10-01","v":0.0034},{"d":"2010-10-11","v":0.0014},{"d":"2010-10-21","v":0.0058},{"d":"2010-10-26","v":0.001},
{"d":"2010-11-01","v":0.0124},{"d":"2010-11-06","v":0.0018},{"d":"2010-11-11","v":0.0104},{"d":"2010-11-21","v":0.0046},{"d":"2010-11-26","v":0.001},
{"d":"2010-12-01","v":0.005},{"d":"2010-12-11","v":0.001},{"d":"2010-12-21","v":0.0034},{"d":"2010-12-26","v":0.0014},
{"d":"2011-01-01","v":0.01},{"d":"2011-01-11","v":0.0054},{"d":"2011-01-21","v":0.013},{"d":"2011-01-26","v":0.0054},
{"d":"2011-02-01","v":0.01},{"d":"2011-02-06","v":0.0161},{"d":"2011-02-11","v":0.008},{"d":"2011-02-21","v":0.0221},{"d":"2011-02-26","v":0.013},
{"d":"2011-03-01","v":0.0313},{"d":"2011-03-06","v":0.0177},{"d":"2011-03-11","v":0.0042},{"d":"2011-03-21","v":0.0002},{"d":"2011-03-26","v":0.003},
{"d":"2011-04-01","v":0.001},{"d":"2011-04-11","v":0.003},{"d":"2011-04-21","v":0.0006},{"d":"2011-04-26","v":0.0022},
{"d":"2011-05-01","v":0.0038},{"d":"2011-05-11","v":0.001},{"d":"2011-05-21","v":0.0245},{"d":"2011-05-26","v":0.0106},
{"d":"2011-06-01","v":0.0018},{"d":"2011-06-11","v":0.0122},{"d":"2011-06-21","v":0.003},{"d":"2011-06-26","v":0.0112},
{"d":"2011-07-01","v":0.008},{"d":"2011-07-11","v":0.015},{"d":"2011-07-16","v":0.0018},{"d":"2011-07-21","v":0.0139},{"d":"2011-07-26","v":0.01},
{"d":"2011-08-01","v":0.006},{"d":"2011-08-09","v":0.0456},{"d":"2011-08-12","v":0.0014},{"d":"2011-08-16","v":0.0137},{"d":"2011-08-21","v":0.003},{"d":"2011-08-26","v":0.0106},
{"d":"2011-09-01","v":0.0034},{"d":"2011-09-11","v":0.007},{"d":"2011-09-21","v":0.0026},{"d":"2011-09-26","v":0.006},
{"d":"2011-10-01","v":0.0058},{"d":"2011-10-11","v":0.002},{"d":"2011-10-21","v":0.0046},{"d":"2011-10-26","v":0.0086},
{"d":"2011-11-01","v":0.0078},{"d":"2011-11-06","v":0.004},{"d":"2011-11-11","v":0.0066},{"d":"2011-11-21","v":0.0114},{"d":"2011-11-26","v":0.0034},
{"d":"2011-12-01","v":0.0114},{"d":"2011-12-11","v":0.007},{"d":"2011-12-21","v":0.0161},{"d":"2011-12-26","v":0.009},
{"d":"2012-01-01","v":0.0161},{"d":"2012-01-06","v":0.0102},{"d":"2012-01-11","v":0.015},{"d":"2012-01-21","v":0.008},{"d":"2012-01-28","v":0.0303},
{"d":"2012-02-01","v":0.0062},{"d":"2012-02-06","v":0.0177},{"d":"2012-02-11","v":0.0145},{"d":"2012-02-16","v":0.011},{"d":"2012-02-21","v":0.0165},{"d":"2012-02-26","v":0.007},
{"d":"2012-03-01","v":0.0054},{"d":"2012-03-11","v":0.0018},{"d":"2012-03-21","v":0.0006},{"d":"2012-03-26","v":0.0026},
{"d":"2012-04-01","v":0.0054},{"d":"2012-04-11","v":0.0012},{"d":"2012-04-21","v":0.009},{"d":"2012-04-26","v":0.0215},
{"d":"2012-05-01","v":0.0169},{"d":"2012-05-06","v":0.0349},{"d":"2012-05-11","v":0.0169},{"d":"2012-05-16","v":0.0382},{"d":"2012-05-21","v":0.03},{"d":"2012-05-27","v":0.0396},
{"d":"2012-06-02","v":0.025},{"d":"2012-06-09","v":0.0488},{"d":"2012-06-14","v":0.034},{"d":"2012-06-20","v":0.0432},{"d":"2012-06-24","v":0.0233},{"d":"2012-06-29","v":0.0283},
{"d":"2012-07-04","v":0.0153},{"d":"2012-07-11","v":0.02},{"d":"2012-07-19","v":0.0219},{"d":"2012-07-24","v":0.0106},{"d":"2012-07-29","v":0.0169},
{"d":"2012-08-04","v":0.0169},{"d":"2012-08-08","v":0.0128},{"d":"2012-08-13","v":0.009},{"d":"2012-08-21","v":0.0177},{"d":"2012-08-26","v":0.01},
{"d":"2012-09-01","v":0.0086},{"d":"2012-09-11","v":0.014},{"d":"2012-09-21","v":0.0197},{"d":"2012-09-26","v":0.013},
{"d":"2012-10-01","v":0.0145},{"d":"2012-10-06","v":0.0044},{"d":"2012-10-11","v":0.0169},{"d":"2012-10-21","v":0.008},{"d":"2012-10-26","v":0.0241},
{"d":"2012-11-01","v":0.015},{"d":"2012-11-06","v":0.001},{"d":"2012-11-11","v":0.0177},{"d":"2012-11-21","v":0.009},{"d":"2012-11-26","v":0.0022},
{"d":"2012-12-01","v":0.0125},{"d":"2012-12-06","v":0.006},{"d":"2012-12-11","v":0.0245},{"d":"2012-12-21","v":0.013},{"d":"2012-12-26","v":0.0309},
{"d":"2013-01-01","v":0.0309},{"d":"2013-01-06","v":0.0225},{"d":"2013-01-11","v":0.0169},{"d":"2013-01-16","v":0.0042},{"d":"2013-01-21","v":0.0067},{"d":"2013-01-26","v":0.005},
{"d":"2013-02-01","v":0.005},{"d":"2013-02-06","v":0.014},{"d":"2013-02-11","v":0.007},{"d":"2013-02-21","v":0.0233},{"d":"2013-02-26","v":0.015},
{"d":"2013-03-01","v":0.0249},{"d":"2013-03-06","v":0.0197},{"d":"2013-03-11","v":0.0213},{"d":"2013-03-16","v":0.0098},{"d":"2013-03-21","v":0.015},{"d":"2013-03-26","v":0.018},
{"d":"2013-04-01","v":0.013},{"d":"2013-04-11","v":0.0271},{"d":"2013-04-16","v":0.0046},{"d":"2013-04-21","v":0.0002},{"d":"2013-04-26","v":0.0209},
{"d":"2013-05-01","v":0.0418},{"d":"2013-05-06","v":0.033},{"d":"2013-05-11","v":0.0353},{"d":"2013-05-16","v":0.001},{"d":"2013-05-21","v":0.02},{"d":"2013-05-26","v":0.0337},
{"d":"2013-06-01","v":0.0337},{"d":"2013-06-06","v":0.018},{"d":"2013-06-11","v":0.0283},{"d":"2013-06-16","v":0.0054},{"d":"2013-06-21","v":0.0034},{"d":"2013-06-26","v":0.001},
{"d":"2013-07-01","v":0.0054},{"d":"2013-07-11","v":0.0002},{"d":"2013-07-21","v":0.003},
{"d":"2013-08-01","v":0.0018},{"d":"2013-08-11","v":0.0005},{"d":"2013-08-21","v":0.0052},{"d":"2013-08-26","v":0.0006},
{"d":"2013-09-01","v":0.0094},{"d":"2013-09-06","v":0.005},{"d":"2013-09-11","v":0.0114},{"d":"2013-09-16","v":0.0018},{"d":"2013-09-21","v":0.0066},
{"d":"2013-10-01","v":0.0297},{"d":"2013-10-06","v":0.0177},{"d":"2013-10-11","v":0.0309},{"d":"2013-10-16","v":0.012},{"d":"2013-10-21","v":0.025},{"d":"2013-10-26","v":0.02},
{"d":"2013-11-01","v":0.0327},{"d":"2013-11-06","v":0.0054},{"d":"2013-11-11","v":0.0137},{"d":"2013-11-16","v":0.0384},{"d":"2013-11-21","v":0.02},{"d":"2013-11-26","v":0.0333},
{"d":"2013-12-01","v":0.0026},{"d":"2013-12-06","v":0.0217},{"d":"2013-12-11","v":0.0137},{"d":"2013-12-16","v":0.0026},{"d":"2013-12-21","v":0.0201},{"d":"2013-12-26","v":0.008},
{"d":"2014-01-01","v":0.0137},{"d":"2014-01-06","v":0.0006},{"d":"2014-01-11","v":0.0098},{"d":"2014-01-21","v":0.004},{"d":"2014-01-26","v":0.0205},
{"d":"2014-02-01","v":0.0205},{"d":"2014-02-06","v":0.0058},{"d":"2014-02-11","v":0.001},{"d":"2014-02-21","v":0.007},{"d":"2014-02-26","v":0.002},
{"d":"2014-03-01","v":0.0098},{"d":"2014-03-11","v":0.0006},{"d":"2014-03-21","v":0.006},{"d":"2014-03-26","v":0.0102},
{"d":"2014-04-01","v":0.0102},{"d":"2014-04-11","v":0.0042},{"d":"2014-04-21","v":0.0074},{"d":"2014-04-26","v":0.0094},
{"d":"2014-05-01","v":0.0074},{"d":"2014-05-11","v":0.0038},{"d":"2014-05-21","v":0.0006},{"d":"2014-05-26","v":0.006},
{"d":"2014-06-01","v":0.004},{"d":"2014-06-11","v":0.001},{"d":"2014-06-21","v":0.009},{"d":"2014-06-26","v":0.003},
{"d":"2014-07-01","v":0.0094},{"d":"2014-07-11","v":0.005},{"d":"2014-07-21","v":0.0145},{"d":"2014-07-26","v":0.0094},
{"d":"2014-08-01","v":0.0042},{"d":"2014-08-11","v":0.0118},{"d":"2014-08-21","v":0.0034},{"d":"2014-08-26","v":0.0094},
{"d":"2014-09-01","v":0.009},{"d":"2014-09-11","v":0.0092},{"d":"2014-09-21","v":0.0006},{"d":"2014-09-26","v":0.006},
{"d":"2014-10-01","v":0.008},{"d":"2014-10-11","v":0.0191},{"d":"2014-10-21","v":0.013},{"d":"2014-10-26","v":0.0221},
{"d":"2014-11-01","v":0.02},{"d":"2014-11-06","v":0.0313},{"d":"2014-11-11","v":0.024},{"d":"2014-11-16","v":0.0277},{"d":"2014-11-21","v":0.02},{"d":"2014-11-26","v":0.0281},
{"d":"2014-12-01","v":0.0281},{"d":"2014-12-06","v":0.019},{"d":"2014-12-11","v":0.0269},{"d":"2014-12-16","v":0.0193},{"d":"2014-12-21","v":0.0094},{"d":"2014-12-26","v":0.016},
{"d":"2015-01-01","v":0.0217},{"d":"2015-01-06","v":0.0118},{"d":"2015-01-11","v":0.016},{"d":"2015-01-21","v":0.0273},{"d":"2015-01-26","v":0.018},
{"d":"2015-02-01","v":0.0285},{"d":"2015-02-06","v":0.001},{"d":"2015-02-11","v":0.0005},{"d":"2015-02-16","v":0.012},{"d":"2015-02-21","v":0.001},{"d":"2015-02-26","v":0.005},
{"d":"2015-03-01","v":0.0137},{"d":"2015-03-06","v":0.001},{"d":"2015-03-11","v":0.007},{"d":"2015-03-21","v":0.003},{"d":"2015-03-26","v":0.015},
{"d":"2015-04-01","v":0.0237},{"d":"2015-04-06","v":0.0005},{"d":"2015-04-11","v":0.01},{"d":"2015-04-21","v":0.018},{"d":"2015-04-26","v":0.0293},
{"d":"2015-05-01","v":0.023},{"d":"2015-05-06","v":0.0323},{"d":"2015-05-11","v":0.0261},{"d":"2015-05-16","v":0.0283},{"d":"2015-05-21","v":0.0221},{"d":"2015-05-26","v":0.0257},
{"d":"2015-06-01","v":0.0281},{"d":"2015-06-06","v":0.015},{"d":"2015-06-11","v":0.02},{"d":"2015-06-16","v":0.013},{"d":"2015-06-21","v":0.0249},{"d":"2015-06-26","v":0.015},
{"d":"2015-07-01","v":0.0261},{"d":"2015-07-06","v":0.0062},{"d":"2015-07-11","v":0.018},{"d":"2015-07-16","v":0.016},{"d":"2015-07-21","v":0.001},{"d":"2015-07-26","v":0.03},
{"d":"2015-08-01","v":0.048},{"d":"2015-08-04","v":0.0512},{"d":"2015-08-07","v":0.0585},{"d":"2015-08-11","v":0.0329},{"d":"2015-08-16","v":0.0428},{"d":"2015-08-21","v":0.03},{"d":"2015-08-26","v":0.0466},
{"d":"2015-09-01","v":0.054},{"d":"2015-09-06","v":0.0387},{"d":"2015-09-11","v":0.0468},{"d":"2015-09-16","v":0.033},{"d":"2015-09-21","v":0.05},{"d":"2015-09-28","v":0.054},
{"d":"2015-10-01","v":0.0468},{"d":"2015-10-06","v":0.035},{"d":"2015-10-11","v":0.0518},{"d":"2015-10-16","v":0.0436},{"d":"2015-10-21","v":0.046},{"d":"2015-10-26","v":0.04},
{"d":"2015-11-01","v":0.04},{"d":"2015-11-06","v":0.0329},{"d":"2015-11-11","v":0.0267},{"d":"2015-11-16","v":0.0404},{"d":"2015-11-21","v":0.037},{"d":"2015-11-26","v":0.03},
{"d":"2015-12-01","v":0.038},{"d":"2015-12-06","v":0.0416},{"d":"2015-12-11","v":0.0265},{"d":"2015-12-16","v":0.04},{"d":"2015-12-21","v":0.0434},{"d":"2015-12-26","v":0.033},
{"d":"2016-01-01","v":0.036},{"d":"2016-01-06","v":0.0257},{"d":"2016-01-11","v":0.0177},{"d":"2016-01-16","v":0.01},{"d":"2016-01-21","v":0.0014},{"d":"2016-01-26","v":0.0173},
{"d":"2016-02-01","v":0.011},{"d":"2016-02-06","v":0.007},{"d":"2016-02-11","v":0.013},{"d":"2016-02-21","v":0.0002},{"d":"2016-02-26","v":0.007},
{"d":"2016-03-01","v":0.0177},{"d":"2016-03-06","v":0.0105},{"d":"2016-03-11","v":0.009},{"d":"2016-03-21","v":0.034},{"d":"2016-03-26","v":0.0177},
{"d":"2016-04-01","v":0.0189},{"d":"2016-04-06","v":0.0149},{"d":"2016-04-11","v":0.01},{"d":"2016-04-16","v":0.0185},{"d":"2016-04-21","v":0.0106},{"d":"2016-04-26","v":0.0149},
{"d":"2016-05-01","v":0.0125},{"d":"2016-05-06","v":0.0149},{"d":"2016-05-11","v":0.0114},{"d":"2016-05-21","v":0.0131},{"d":"2016-05-26","v":0.0185},
{"d":"2016-06-01","v":0.0185},{"d":"2016-06-06","v":0.015},{"d":"2016-06-11","v":0.001},{"d":"2016-06-16","v":0.0209},{"d":"2016-06-21","v":0.008},{"d":"2016-06-26","v":0.0225},
{"d":"2016-07-01","v":0.0225},{"d":"2016-07-06","v":0.0006},{"d":"2016-07-11","v":0.01},{"d":"2016-07-21","v":0.005},{"d":"2016-07-26","v":0.015},
{"d":"2016-08-01","v":0.0245},{"d":"2016-08-06","v":0.015},{"d":"2016-08-11","v":0.0074},{"d":"2016-08-21","v":0.0026},{"d":"2016-08-26","v":0.0078},
{"d":"2016-09-01","v":0.005},{"d":"2016-09-11","v":0.0058},{"d":"2016-09-21","v":0.001},{"d":"2016-09-26","v":0.0042},
{"d":"2016-10-01","v":0.001},{"d":"2016-10-11","v":0.0034},{"d":"2016-10-21","v":0.0006},{"d":"2016-10-26","v":0.006},
{"d":"2016-11-01","v":0.0082},{"d":"2016-11-11","v":0.0006},{"d":"2016-11-21","v":0.004},{"d":"2016-11-26","v":0.001},
{"d":"2016-12-01","v":0.0102},{"d":"2016-12-06","v":0.0002},{"d":"2016-12-16","v":0.0416},{"d":"2016-12-21","v":0.0265},{"d":"2016-12-26","v":0.014},
{"d":"2017-01-01","v":0.013},{"d":"2017-01-06","v":0.015},{"d":"2017-01-11","v":0.0122},{"d":"2017-01-21","v":0.015},{"d":"2017-01-26","v":0.012},
{"d":"2017-02-01","v":0.0165},{"d":"2017-02-06","v":0.0094},{"d":"2017-02-11","v":0.0137},{"d":"2017-02-21","v":0.012},{"d":"2017-02-26","v":0.015},
{"d":"2017-03-01","v":0.0235},{"d":"2017-03-06","v":0.0197},{"d":"2017-03-11","v":0.0345},{"d":"2017-03-16","v":0.025},{"d":"2017-03-21","v":0.03},{"d":"2017-03-26","v":0.0365},
{"d":"2017-04-01","v":0.0275},{"d":"2017-04-06","v":0.033},{"d":"2017-04-11","v":0.0406},{"d":"2017-04-16","v":0.0249},{"d":"2017-04-26","v":0.0106},
{"d":"2017-05-01","v":0.0283},{"d":"2017-05-04","v":0.0247},{"d":"2017-05-08","v":0.005},{"d":"2017-05-11","v":0.0165},{"d":"2017-05-16","v":0.008},{"d":"2017-05-21","v":0.001},{"d":"2017-05-26","v":0.0114},
{"d":"2017-06-01","v":0.01},{"d":"2017-06-11","v":0.001},{"d":"2017-06-21","v":0.007},{"d":"2017-06-26","v":0.0018},
{"d":"2017-07-01","v":0.0078},{"d":"2017-07-11","v":0.001},{"d":"2017-07-21","v":0.0104},{"d":"2017-07-26","v":0.001},
{"d":"2017-08-01","v":0.016},{"d":"2017-08-11","v":0.0209},{"d":"2017-08-16","v":0.0058},{"d":"2017-08-21","v":0.0118},{"d":"2017-08-26","v":0.018},
{"d":"2017-09-01","v":0.0297},{"d":"2017-09-06","v":0.0313},{"d":"2017-09-11","v":0.0269},{"d":"2017-09-16","v":0.0378},{"d":"2017-09-21","v":0.0364},{"d":"2017-09-26","v":0.0193},
{"d":"2017-10-01","v":0.0086},{"d":"2017-10-06","v":0.016},{"d":"2017-10-11","v":0.0201},{"d":"2017-10-21","v":0.0145},{"d":"2017-10-26","v":0.01},
{"d":"2017-11-01","v":0.0191},{"d":"2017-11-06","v":0.0006},{"d":"2017-11-11","v":0.0153},{"d":"2017-11-21","v":0.009},{"d":"2017-11-26","v":0.002},
{"d":"2017-12-01","v":0.005},{"d":"2017-12-11","v":0.0173},{"d":"2017-12-21","v":0.0022},{"d":"2017-12-26","v":0.0098},
{"d":"2018-01-01","v":0.007},{"d":"2018-01-11","v":0.0002},{"d":"2018-01-21","v":0.003},{"d":"2018-01-26","v":0.007},
{"d":"2018-02-01","v":0.0193},{"d":"2018-02-06","v":0.01},{"d":"2018-02-11","v":0.034},{"d":"2018-02-16","v":0.016},{"d":"2018-02-21","v":0.0303},{"d":"2018-02-26","v":0.0014},
{"d":"2018-03-01","v":0.0158},{"d":"2018-03-06","v":0.01},{"d":"2018-03-11","v":0.005},{"d":"2018-03-21","v":0.015},{"d":"2018-03-26","v":0.0329},
{"d":"2018-04-01","v":0.011},{"d":"2018-04-06","v":0.005},{"d":"2018-04-11","v":0.0098},{"d":"2018-04-21","v":0.0022},{"d":"2018-04-26","v":0.009},
{"d":"2018-05-01","v":0.001},{"d":"2018-05-11","v":0.0102},{"d":"2018-05-21","v":0.0074},{"d":"2018-05-26","v":0.0022},
{"d":"2018-06-01","v":0.0058},{"d":"2018-06-11","v":0.001},{"d":"2018-06-21","v":0.0074},{"d":"2018-06-26","v":0.0078},
{"d":"2018-07-01","v":0.0076},{"d":"2018-07-11","v":0.0082},{"d":"2018-07-21","v":0.005},{"d":"2018-07-26","v":0.0265},
{"d":"2018-08-01","v":0.0114},{"d":"2018-08-06","v":0.0054},{"d":"2018-08-11","v":0.009},{"d":"2018-08-21","v":0.0125},{"d":"2018-08-26","v":0.0038},
{"d":"2018-09-01","v":0.0038},{"d":"2018-09-11","v":0.0392},{"d":"2018-09-16","v":0.02},{"d":"2018-09-21","v":0.0396},{"d":"2018-09-26","v":0.0022},
{"d":"2018-10-01","v":0.0253},{"d":"2018-10-06","v":0.001},{"d":"2018-10-11","v":0.015},{"d":"2018-10-21","v":0.0153},{"d":"2018-10-26","v":0.005},
{"d":"2018-11-01","v":0.01},{"d":"2018-11-06","v":0.0187},{"d":"2018-11-11","v":0.013},{"d":"2018-11-21","v":0.0098},{"d":"2018-11-26","v":0.0022},
{"d":"2018-12-01","v":0.009},{"d":"2018-12-06","v":0.005},{"d":"2018-12-11","v":0.0002},{"d":"2018-12-16","v":0.0102},{"d":"2018-12-21","v":0.0265},{"d":"2018-12-26","v":0.021},
{"d":"2019-01-01","v":0.0277},{"d":"2019-01-06","v":0.024},{"d":"2019-01-11","v":0.0281},{"d":"2019-01-16","v":0.0257},{"d":"2019-01-21","v":0.0289},{"d":"2019-01-26","v":0.0297},
{"d":"2019-02-01","v":0.026},{"d":"2019-02-06","v":0.03},{"d":"2019-02-11","v":0.0249},{"d":"2019-02-21","v":0.0329},{"d":"2019-02-26","v":0.025},
{"d":"2019-03-01","v":0.0333},{"d":"2019-03-06","v":0.0269},{"d":"2019-03-11","v":0.0349},{"d":"2019-03-16","v":0.0269},{"d":"2019-03-21","v":0.03},{"d":"2019-03-26","v":0.026},
{"d":"2019-04-01","v":0.036},{"d":"2019-04-06","v":0.0301},{"d":"2019-04-11","v":0.0235},{"d":"2019-04-16","v":0.03},{"d":"2019-04-21","v":0.028},{"d":"2019-04-26","v":0.0353},
{"d":"2019-05-01","v":0.027},{"d":"2019-05-06","v":0.0329},{"d":"2019-05-11","v":0.0217},{"d":"2019-05-16","v":0.034},{"d":"2019-05-21","v":0.0392},{"d":"2019-05-26","v":0.0432},
{"d":"2019-06-01","v":0.0353},{"d":"2019-06-06","v":0.0205},{"d":"2019-06-11","v":0.0066},{"d":"2019-06-16","v":0.0173},{"d":"2019-06-21","v":0.015},{"d":"2019-06-26","v":0.0171},
{"d":"2019-07-01","v":0.0171},{"d":"2019-07-06","v":0.0114},{"d":"2019-07-11","v":0.0169},{"d":"2019-07-21","v":0.0145},{"d":"2019-07-26","v":0.0058},
{"d":"2019-08-01","v":0.005},{"d":"2019-08-11","v":0.001},{"d":"2019-08-21","v":0.0058},{"d":"2019-08-26","v":0.0102},
{"d":"2019-09-01","v":0.0118},{"d":"2019-09-11","v":0.0026},{"d":"2019-09-21","v":0.001},{"d":"2019-09-26","v":0.006},
{"d":"2019-10-01","v":0.0078},{"d":"2019-10-11","v":0.003},{"d":"2019-10-21","v":0.009},{"d":"2019-10-26","v":0.0143},
{"d":"2019-11-01","v":0.0006},{"d":"2019-11-06","v":0.0125},{"d":"2019-11-11","v":0.001},{"d":"2019-11-21","v":0.007},{"d":"2019-11-26","v":0.0155},
{"d":"2019-12-01","v":0.0155},{"d":"2019-12-06","v":0.007},{"d":"2019-12-11","v":0.0034},{"d":"2019-12-21","v":0.0042},{"d":"2019-12-26","v":0.0026},
{"d":"2020-01-01","v":0.0034},{"d":"2020-01-11","v":0.002},{"d":"2020-01-21","v":0.011},{"d":"2020-01-26","v":0.0181},
{"d":"2020-02-01","v":0.0181},{"d":"2020-02-06","v":0.0122},{"d":"2020-02-11","v":0.0209},{"d":"2020-02-21","v":0.01},{"d":"2020-02-26","v":0.0257},
{"d":"2020-03-01","v":0.0257},{"d":"2020-03-06","v":0.0378},{"d":"2020-03-11","v":0.0229},{"d":"2020-03-16","v":0.0102},{"d":"2020-03-21","v":0.025},{"d":"2020-03-26","v":0.0153},
{"d":"2020-04-01","v":0.0169},{"d":"2020-04-06","v":0.0125},{"d":"2020-04-11","v":0.0137},{"d":"2020-04-21","v":0.0098},{"d":"2020-04-26","v":0.013},
{"d":"2020-05-01","v":0.0094},{"d":"2020-05-11","v":0.012},{"d":"2020-05-21","v":0.0141},{"d":"2020-05-26","v":0.01},
{"d":"2020-06-01","v":0.0137},{"d":"2020-06-11","v":0.009},{"d":"2020-06-21","v":0.013},{"d":"2020-06-26","v":0.011},
{"d":"2020-07-01","v":0.011},{"d":"2020-07-11","v":0.0167},{"d":"2020-07-21","v":0.0106},{"d":"2020-07-26","v":0.0125},
{"d":"2020-08-01","v":0.001},{"d":"2020-08-06","v":0.003},{"d":"2020-08-11","v":0.0139},{"d":"2020-08-21","v":0.001},{"d":"2020-08-26","v":0.006},
{"d":"2020-09-01","v":0.004},{"d":"2020-09-11","v":0.0191},{"d":"2020-09-16","v":0.006},{"d":"2020-09-26","v":0.018},
{"d":"2020-10-01","v":0.001},{"d":"2020-10-06","v":0.0034},{"d":"2020-10-11","v":0.0082},{"d":"2020-10-21","v":0.0042},{"d":"2020-10-26","v":0.001},
{"d":"2020-11-01","v":0.0042},{"d":"2020-11-11","v":0.001},{"d":"2020-11-21","v":0.006},{"d":"2020-11-26","v":0.001},
{"d":"2020-12-01","v":0.0133},{"d":"2020-12-06","v":0.0205},{"d":"2020-12-16","v":0.0137},{"d":"2020-12-26","v":0.016},
{"d":"2021-01-01","v":0.0217},{"d":"2021-01-06","v":0.0094},{"d":"2021-01-11","v":0.013},{"d":"2021-01-16","v":0.006},{"d":"2021-01-21","v":0.01},{"d":"2021-01-26","v":0.004},
{"d":"2021-02-01","v":0.0141},{"d":"2021-02-06","v":0.0018},{"d":"2021-02-11","v":0.007},{"d":"2021-02-21","v":0.001},{"d":"2021-02-26","v":0.0086},
{"d":"2021-03-01","v":0.0054},{"d":"2021-03-11","v":0.0034},{"d":"2021-03-21","v":0.001},{"d":"2021-03-26","v":0.007},
{"d":"2021-04-01","v":0.007},{"d":"2021-04-11","v":0.003},{"d":"2021-04-16","v":0.0193},{"d":"2021-04-21","v":0.004},{"d":"2021-04-26","v":0.0177},
{"d":"2021-05-01","v":0.02},{"d":"2021-05-06","v":0.0373},{"d":"2021-05-11","v":0.018},{"d":"2021-05-16","v":0.0365},{"d":"2021-05-21","v":0.018},{"d":"2021-05-26","v":0.0269},
{"d":"2021-06-01","v":0.0269},{"d":"2021-06-06","v":0.0145},{"d":"2021-06-11","v":0.0229},{"d":"2021-06-16","v":0.0193},{"d":"2021-06-21","v":0.0245},{"d":"2021-06-26","v":0.017},
{"d":"2021-07-01","v":0.0185},{"d":"2021-07-06","v":0.015},{"d":"2021-07-11","v":0.0237},{"d":"2021-07-16","v":0.0157},{"d":"2021-07-21","v":0.0201},{"d":"2021-07-26","v":0.0205},
{"d":"2021-08-01","v":0.0094},{"d":"2021-08-06","v":0.0026},{"d":"2021-08-11","v":0.0145},{"d":"2021-08-21","v":0.001},{"d":"2021-08-26","v":0.008},
{"d":"2021-09-01","v":0.0137},{"d":"2021-09-06","v":0.0161},{"d":"2021-09-11","v":0.01},{"d":"2021-09-16","v":0.0173},{"d":"2021-09-26","v":0.0277},
{"d":"2021-10-01","v":0.001},{"d":"2021-10-06","v":0.0145},{"d":"2021-10-11","v":0.007},{"d":"2021-10-21","v":0.0145},{"d":"2021-10-26","v":0.001},
{"d":"2021-11-01","v":0.001},{"d":"2021-11-06","v":0.0125},{"d":"2021-11-11","v":0.003},{"d":"2021-11-21","v":0.007},{"d":"2021-11-26","v":0.0026},
{"d":"2021-12-01","v":0.0096},{"d":"2021-12-06","v":0.015},{"d":"2021-12-11","v":0.0034},{"d":"2021-12-16","v":0.0094},{"d":"2021-12-21","v":0.003},{"d":"2021-12-26","v":0.0147},
{"d":"2022-01-01","v":0.0147},{"d":"2022-01-06","v":0.0014},{"d":"2022-01-11","v":0.0046},{"d":"2022-01-21","v":0.012},{"d":"2022-01-26","v":0.003},
{"d":"2022-02-01","v":0.006},{"d":"2022-02-06","v":0.0181},{"d":"2022-02-16","v":0.0283},{"d":"2022-02-21","v":0.0026},{"d":"2022-02-26","v":0.0078},
{"d":"2022-03-01","v":0.01},{"d":"2022-03-11","v":0.0213},{"d":"2022-03-16","v":0.0034},{"d":"2022-03-21","v":0.0149},{"d":"2022-03-26","v":0.0058},
{"d":"2022-04-01","v":0.0058},{"d":"2022-04-11","v":0.012},{"d":"2022-04-16","v":0.0217},{"d":"2022-04-21","v":0.0213},{"d":"2022-04-26","v":0.0026},
{"d":"2022-05-01","v":0.0121},{"d":"2022-05-06","v":0.0086},{"d":"2022-05-11","v":0.0137},{"d":"2022-05-21","v":0.0074},{"d":"2022-05-26","v":0.0026},
{"d":"2022-06-01","v":0.0137},{"d":"2022-06-06","v":0.0094},{"d":"2022-06-11","v":0.0404},{"d":"2022-06-16","v":0.005},{"d":"2022-06-21","v":0.0098},{"d":"2022-06-26","v":0.007},
{"d":"2022-07-01","v":0.0122},{"d":"2022-07-11","v":0.0078},{"d":"2022-07-21","v":0.001},{"d":"2022-07-26","v":0.006},
{"d":"2022-08-01","v":0.013},{"d":"2022-08-06","v":0.006},{"d":"2022-08-16","v":0.0217},{"d":"2022-08-21","v":0.01},{"d":"2022-08-26","v":0.014},
{"d":"2022-09-01","v":0.0205},{"d":"2022-09-06","v":0.011},{"d":"2022-09-11","v":0.0074},{"d":"2022-09-21","v":0.015},{"d":"2022-09-26","v":0.0271},
{"d":"2022-10-01","v":0.0153},{"d":"2022-10-06","v":0.0169},{"d":"2022-10-11","v":0.005},{"d":"2022-10-21","v":0.0006},{"d":"2022-10-26","v":0.01},
{"d":"2022-11-01","v":0.0137},{"d":"2022-11-06","v":0.008},{"d":"2022-11-11","v":0.0002},{"d":"2022-11-21","v":0.012},{"d":"2022-11-26","v":0.0171},
{"d":"2022-12-01","v":0.0106},{"d":"2022-12-06","v":0.015},{"d":"2022-12-11","v":0.009},{"d":"2022-12-21","v":0.011},{"d":"2022-12-26","v":0.0054},
{"d":"2023-01-01","v":0.009},{"d":"2023-01-06","v":0.0137},{"d":"2023-01-11","v":0.0042},{"d":"2023-01-21","v":0.01},{"d":"2023-01-26","v":0.0026},
{"d":"2023-02-01","v":0.0085},{"d":"2023-02-06","v":0.0034},{"d":"2023-02-11","v":0.0015},{"d":"2023-02-16","v":0.0006},{"d":"2023-02-24","v":0.0000566},
{"d":"2023-03-01","v":0.005},{"d":"2023-03-06","v":0.002},{"d":"2023-03-11","v":0.0169},{"d":"2023-03-21","v":0.0102},{"d":"2023-03-26","v":0.0058},
{"d":"2023-04-01","v":0.0066},{"d":"2023-04-11","v":0.002},{"d":"2023-04-21","v":0.015},{"d":"2023-04-26","v":0.0026},
{"d":"2023-05-01","v":0.0153},{"d":"2023-05-06","v":0.005},{"d":"2023-05-11","v":0.0173},{"d":"2023-05-16","v":0.0046},{"d":"2023-05-26","v":0.0137},
{"d":"2023-06-01","v":0.009},{"d":"2023-06-11","v":0.005},{"d":"2023-06-21","v":0.0062},{"d":"2023-06-26","v":0.0022},
{"d":"2023-07-01","v":0.0098},{"d":"2023-07-11","v":0.005},{"d":"2023-07-16","v":0.0022},{"d":"2023-07-26","v":0.0145},
{"d":"2023-08-01","v":0.0145},{"d":"2023-08-06","v":0.0197},{"d":"2023-08-11","v":0.0018},{"d":"2023-08-16","v":0.015},{"d":"2023-08-21","v":0.005},{"d":"2023-08-26","v":0.0153},
{"d":"2023-09-01","v":0.0249},{"d":"2023-09-06","v":0.0275},{"d":"2023-09-11","v":0.0233},{"d":"2023-09-16","v":0.0169},{"d":"2023-09-21","v":0.0022},{"d":"2023-09-26","v":0.009},
{"d":"2023-10-01","v":0.005},{"d":"2023-10-11","v":0.009},{"d":"2023-10-21","v":0.0022},{"d":"2023-10-26","v":0.007},
{"d":"2023-11-01","v":0.0118},{"d":"2023-11-06","v":0.0018},{"d":"2023-11-11","v":0.0066},{"d":"2023-11-21","v":0.0022},{"d":"2023-11-26","v":0.005},
{"d":"2023-12-01","v":0.001},{"d":"2023-12-11","v":0.005},{"d":"2023-12-21","v":0.0022},{"d":"2023-12-26","v":0.0078},
{"d":"2024-01-01","v":0.005},{"d":"2024-01-11","v":0.0034},{"d":"2024-01-21","v":0.0018},{"d":"2024-01-26","v":0.006},
{"d":"2024-02-01","v":0.0062},{"d":"2024-02-11","v":0.0098},{"d":"2024-02-21","v":0.0124},{"d":"2024-02-26","v":0.005},
{"d":"2024-03-01","v":0.008},{"d":"2024-03-11","v":0.0173},{"d":"2024-03-16","v":0.0185},{"d":"2024-03-21","v":0.0137},{"d":"2024-03-26","v":0.0018},
{"d":"2024-04-01","v":0.005},{"d":"2024-04-11","v":0.0026},{"d":"2024-04-21","v":0.0118},{"d":"2024-04-26","v":0.0022},
{"d":"2024-05-01","v":0.001},{"d":"2024-05-11","v":0.0026},{"d":"2024-05-21","v":0.0008},
{"d":"2024-06-01","v":0.0018},{"d":"2024-06-11","v":0.001},{"d":"2024-06-21","v":0.0042},
{"d":"2024-07-01","v":0.0058},{"d":"2024-07-11","v":0.003},{"d":"2024-07-21","v":0.011},
{"d":"2024-08-01","v":0.006},{"d":"2024-08-11","v":0.0141},{"d":"2024-08-16","v":0.0042},{"d":"2024-08-21","v":0.011},{"d":"2024-08-26","v":0.007},
{"d":"2024-09-01","v":0.0018},{"d":"2024-09-11","v":0.0046},{"d":"2024-09-21","v":0.0034},
{"d":"2024-10-01","v":0.004},{"d":"2024-10-06","v":0.0074},{"d":"2024-10-11","v":0.0018},{"d":"2024-10-21","v":0.0058},
{"d":"2024-11-01","v":0.003},{"d":"2024-11-11","v":0.0018},{"d":"2024-11-21","v":0.0046},
{"d":"2024-12-01","v":0.0046},{"d":"2024-12-11","v":0.0022},{"d":"2024-12-21","v":0.005},
{"d":"2025-01-01","v":0.0082},{"d":"2025-01-11","v":0.001},{"d":"2025-01-21","v":0.007},{"d":"2025-01-26","v":0.0209},
{"d":"2025-02-01","v":0.0125},{"d":"2025-02-06","v":0.003},{"d":"2025-02-11","v":0.0125},{"d":"2025-02-16","v":0.0046},{"d":"2025-02-21","v":0.008},{"d":"2025-02-28","v":0.0205}
]
},
"layer": [
{
"data": {"name": "series"},
"mark": {"type": "line", "color": "#800080", "strokeWidth": 2, "strokeJoin": "round"},
"encoding": {
"x": {"field": "d", "type": "temporal",
"scale": {"type": "utc", "nice": false, "domain": [{"year": 1991, "month": 9, "date": 1, "utc": true}, {"year": 2025, "month": 2, "date": 28, "utc": true}]},
"axis": {"title": "Date", "format": "%Y", "tickCount": {"interval": "year", "step": 5}, "grid": true, "gridColor": "#EBF0F8", "gridWidth": 1, "domain": false, "ticks": false, "labelPadding": 7, "labelFontSize": 9.6, "labelColor": "#2a3f5f", "labelFont": "Liberation Sans", "titleFont": "Liberation Sans", "titleFontSize": 11.2, "titleFontWeight": "normal", "titleColor": "#2a3f5f", "titlePadding": 9, "labelOverlap": false}},
"y": {"field": "v", "type": "quantitative",
"scale": {"domain": [-0.003, 0.0617], "nice": false, "zero": false},
"axis": {"title": "Inefficiency Index", "values": [0, 0.01, 0.02, 0.03, 0.04, 0.05, 0.06], "format": ".2~f", "grid": true, "gridColor": "#EBF0F8", "gridWidth": 1, "domain": false, "ticks": false, "labelPadding": 2, "labelFontSize": 9.6, "labelColor": "#2a3f5f", "labelFont": "Liberation Sans", "titleFont": "Liberation Sans", "titleFontSize": 11.2, "titleFontWeight": "normal", "titleColor": "#2a3f5f", "titlePadding": 10}}
}
},
{
"data": {"name": "hover"},
"mark": {"type": "rect", "color": "#800080", "stroke": "#ffffff", "strokeWidth": 1, "xOffset": 4, "x2Offset": 115, "yOffset": -7, "y2Offset": 7},
"encoding": {
"x": {"field": "d", "type": "temporal"},
"x2": {"field": "d"},
"y": {"field": "v", "type": "quantitative"},
"y2": {"field": "v"}
}
},
{
"data": {"name": "hover"},
"mark": {"type": "point", "shape": "triangle-left", "filled": true, "color": "#800080", "opacity": 1, "size": 40, "xOffset": 2.5},
"encoding": {
"x": {"field": "d", "type": "temporal"},
"y": {"field": "v", "type": "quantitative"}
}
},
{
"data": {"name": "hover"},
"mark": {"type": "text", "align": "left", "baseline": "middle", "dx": 7, "fontSize": 10.4, "color": "#ffffff", "font": "Liberation Sans"},
"encoding": {
"x": {"field": "d", "type": "temporal"},
"y": {"field": "v", "type": "quantitative"},
"text": {"field": "label"}
}
}
]
}
